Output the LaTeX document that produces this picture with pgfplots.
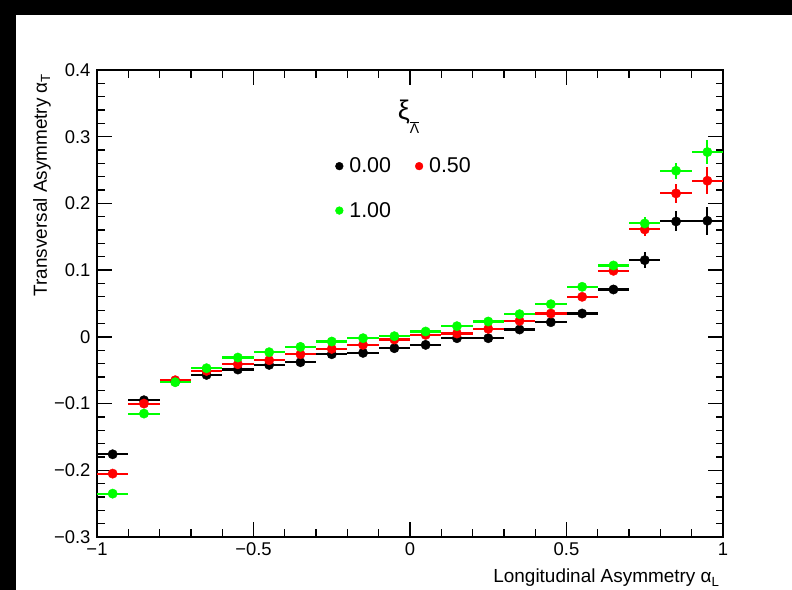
\documentclass[border=0pt]{standalone}
\usepackage{fontspec}
\setmainfont{Liberation Sans}
\usepackage{pgfplots}
\usepackage{pgfplotstable}
\pgfplotsset{compat=1.18}

\pgfplotstableread{
x y e
-0.95 -0.176 0.003
-0.85 -0.095 0.003
-0.75 -0.067 0.003
-0.65 -0.057 0.003
-0.55 -0.049 0.003
-0.45 -0.042 0.003
-0.35 -0.038 0.003
-0.25 -0.026 0.003
-0.15 -0.024 0.003
-0.05 -0.017 0.003
0.05 -0.012 0.003
0.15 -0.002 0.003
0.25 -0.002 0.003
0.35 0.011 0.003
0.45 0.022 0.003
0.55 0.035 0.004
0.65 0.071 0.006
0.75 0.115 0.012
0.85 0.173 0.015
0.95 0.174 0.021
}\blackdata

\pgfplotstableread{
x y e
-0.95 -0.205 0.003
-0.85 -0.100 0.003
-0.75 -0.065 0.003
-0.65 -0.051 0.003
-0.55 -0.041 0.003
-0.45 -0.035 0.003
-0.35 -0.026 0.003
-0.25 -0.018 0.003
-0.15 -0.012 0.003
-0.05 -0.004 0.003
0.05 0.003 0.003
0.15 0.005 0.003
0.25 0.012 0.003
0.35 0.024 0.003
0.45 0.035 0.003
0.55 0.060 0.004
0.65 0.099 0.006
0.75 0.161 0.010
0.85 0.215 0.014
0.95 0.234 0.020
}\reddata

\pgfplotstableread{
x y e
-0.95 -0.235 0.003
-0.85 -0.115 0.003
-0.75 -0.068 0.003
-0.65 -0.047 0.003
-0.55 -0.031 0.003
-0.45 -0.023 0.003
-0.35 -0.015 0.003
-0.25 -0.007 0.003
-0.15 -0.002 0.003
-0.05 0.001 0.003
0.05 0.008 0.003
0.15 0.016 0.003
0.25 0.023 0.003
0.35 0.034 0.003
0.45 0.049 0.003
0.55 0.075 0.004
0.65 0.107 0.005
0.75 0.170 0.009
0.85 0.249 0.012
0.95 0.277 0.018
}\greendata

\definecolor{rootred}{RGB}{255,0,0}
\definecolor{rootgreen}{RGB}{0,255,0}

\begin{document}
\begin{tikzpicture}
\useasboundingbox (0,0) rectangle (792bp,590bp);
\fill[black] (0,575bp) rectangle (792bp,590bp);
\fill[black] (0,0) rectangle (16bp,590bp);
\begin{axis}[
  at={(97bp,53bp)}, anchor=south west,
  scale only axis, width=626bp, height=467bp,
  xmin=-1, xmax=1, ymin=-0.3, ymax=0.4,
  xtick={-1,-0.5,0,0.5,1},
  xticklabels={−1,−0.5,0,0.5,1},
  ytick={-0.3,-0.2,-0.1,0,0.1,0.2,0.3,0.4},
  yticklabels={−0.3,−0.2,−0.1,0,0.1,0.2,0.3,0.4},
  minor x tick num=4, minor y tick num=4,
  tick align=inside, tick pos=both,
  major tick length=15bp, minor tick length=7.5bp,
  tick style={line width=1.3bp, black},
  axis line style={line width=1.5bp},
  ticklabel style={font=\fontsize{18.5}{20}\selectfont},
  yticklabel style={xshift=-3bp},
  xticklabel style={yshift=-2bp},
  xlabel={Longitudinal Asymmetry α\textsubscript{L}},
  ylabel={Transversal Asymmetry α\textsubscript{T}},
  label style={font=\fontsize{19}{21}\selectfont},
  xlabel style={at={(axis description cs:1,-0.0985)}, anchor=base east},
  ylabel style={at={(axis description cs:-0.08,1)}, anchor=base east},
  legend columns=2,
  legend style={at={(axis cs:-0.249,0.2745)}, anchor=north west, draw=none, fill=none,
    font=\fontsize{21.5}{23}\selectfont, row sep=24bp,
    /tikz/every even column/.append style={column sep=22bp}},
  legend cell align=left,
  legend image code/.code={\fill (0bp,0bp) circle (3.9bp);
    \path[draw=none, fill=none] (-3.9bp,-0.1bp) rectangle (8bp,0.1bp);},
]
\addplot[only marks, mark=*, black, mark size=4.7bp,
  error bars/.cd, x dir=both, x fixed=0.05, y dir=both, y explicit,
  error mark=none, error bar style={line width=2.1bp, black}]
  table[x=x, y=y, y error=e] {\blackdata};
\addlegendentry{0.00}
\addplot[only marks, mark=*, rootred, mark size=4.7bp,
  error bars/.cd, x dir=both, x fixed=0.05, y dir=both, y explicit,
  error mark=none, error bar style={line width=2.1bp, rootred}]
  table[x=x, y=y, y error=e] {\reddata};
\addlegendentry{0.50}
\addplot[only marks, mark=*, rootgreen, mark size=4.7bp,
  error bars/.cd, x dir=both, x fixed=0.05, y dir=both, y explicit,
  error mark=none, error bar style={line width=2.1bp, rootgreen}]
  table[x=x, y=y, y error=e] {\greendata};
\addlegendentry{1.00}
\node[font=\fontsize{27}{29}\selectfont, anchor=center] at (axis cs:-0.005,0.330)
  {ξ\raisebox{-1.0ex}{\fontsize{14}{14}\selectfont$\overline{\mbox{Λ}}$}};
\end{axis}
\end{tikzpicture}
\end{document}
